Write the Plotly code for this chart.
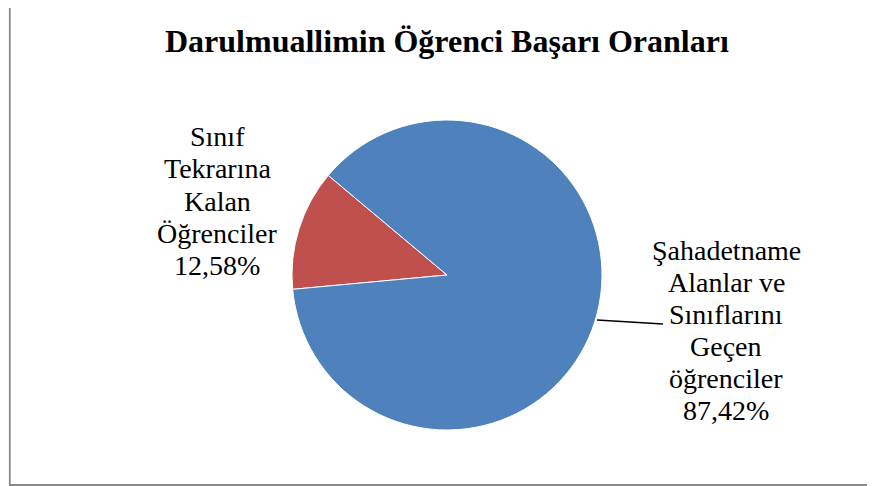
import plotly.graph_objects as go

# page body has an 8px margin, so the figure is drawn 8px in from the top-left
OFF = 8
W, H = 875 - OFF, 486 - OFF

title = "Darulmuallimin Öğrenci Başarı Oranları"
categories = ["Sınıf Tekrarına Kalan Öğrenciler",
              "Şahadetname Alanlar ve Sınıflarını Geçen öğrenciler"]
label_lines = [["Sınıf", "Tekrarına", "Kalan", "Öğrenciler"],
               ["Şahadetname", "Alanlar ve", "Sınıflarını", "Geçen", "öğrenciler"]]
values = [12.58, 87.42]
colors = ["#C0504D", "#4F81BD"]

FONT = "Liberation Serif, Times New Roman, serif"


def px(x):
    return (x - OFF) / W


def py(y):
    return 1 - (y - OFF) / H


cx, cy, r = 447, 275, 155

fig = go.Figure(go.Pie(
    labels=categories,
    values=values,
    sort=False,
    direction="counterclockwise",
    rotation=-95.3,
    marker=dict(colors=colors, line=dict(color="white", width=1)),
    textinfo="none",
    hoverinfo="label+percent",
    showlegend=False,
    domain=dict(x=[px(cx - r), px(cx + r)], y=[py(cy + r), py(cy - r)]),
))


def fmt(v):
    return f"{v:.2f}".replace(".", ",") + "%"


# label blocks: (center x, first baseline, line step) in screen px
label_pos = [(217, 146, 32.3), (726, 260, 32)]
LS = 28
for lines, v, (lx, b0, step) in zip(label_lines, values, label_pos):
    for i, line in enumerate(lines + [fmt(v)]):
        fig.add_annotation(
            x=px(lx), y=py(b0 + i * step - 0.34 * LS), xref="paper", yref="paper",
            text=line, showarrow=False, align="center",
            font=dict(family=FONT, size=LS, color="black"),
            xanchor="center", yanchor="middle",
        )

fig.add_shape(type="line", xref="paper", yref="paper",
              x0=px(597), y0=py(320), x1=px(663), y1=py(324),
              line=dict(color="black", width=1.5))

fig.add_shape(type="rect", xref="paper", yref="paper",
              x0=px(9.8), y0=py(485), x1=px(900), y1=py(2.5),
              line=dict(color="#8a8a8a", width=1.8))

TS = 32
fig.add_annotation(
    x=px(447), y=py(52 - 0.34 * TS), xref="paper", yref="paper",
    text="<b>" + title + "</b>", showarrow=False,
    font=dict(family=FONT, size=TS, color="black"),
    xanchor="center", yanchor="middle",
)

fig.update_layout(
    width=W, height=H,
    margin=dict(l=0, r=0, t=0, b=0),
    paper_bgcolor="white", plot_bgcolor="white",
)

fig.write_html("out.html")
